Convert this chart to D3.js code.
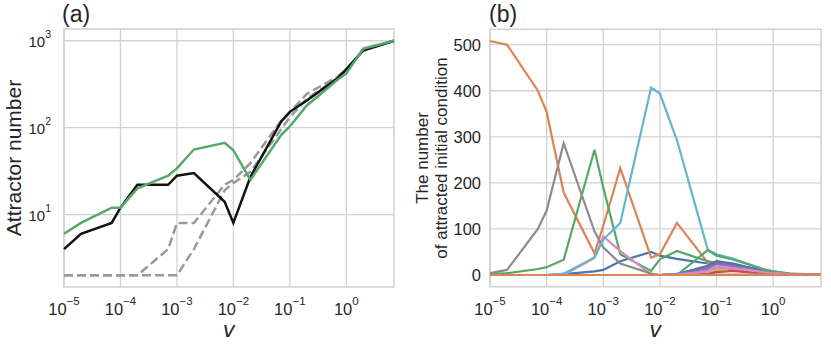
<!DOCTYPE html>
<html>
<head>
<meta charset="utf-8">
<script src="https://cdn.jsdelivr.net/npm/d3@7"></script>
<style>
  body { margin: 0; background: #fff; }
  text { font-family: "Liberation Sans", Arial, sans-serif; fill: #262626; }
</style>
</head>
<body>
<script>
// noise amplitudes (x values, shared by both panels)
const vValues = [1e-5, 2e-5, 7e-5, 1e-4, 2e-4, 7e-4, 1e-3, 2e-3, 7e-3, 1e-2, 2e-2, 7e-2, 1e-1, 2e-1, 7e-1, 1, 2, 7];
const xTicks = [1e-5, 1e-4, 1e-3, 1e-2, 1e-1, 1];
const xTickExp = ["\u22125", "\u22124", "\u22123", "\u22122", "\u22121", "0"];

// panel (a): attractor number
const attractorBlack = [4, 6, 8, 12, 22, 22, 28, 30, 14, 8, 27, 117, 152, 205, 370, 470, 773, 1000];
const attractorGreen = [6, 8, 12, 12, 20, 28, 34, 56, 67, 55, 25, 82, 103, 180, 355, 420, 810, 1000];
const attractorDashA = [2, 2, 2, 2, 2, 4, 8, 8, 22, 25, 39, 120, 150, 245, 385, 470, 780, 1000];
const attractorDashB = [2, 2, 2, 2, 2, 2, 2, 4, 19, 23, 31, 95, 132, 215, 370, 460, 780, 1000];
const yTicksA = [10, 100, 1000];
const yTickExpA = ["1", "2", "3"];

// panel (b): number of attracted initial conditions, one array per attractor
const basinBlue1   = [0, 0, 0, 0, 2, 8, 11, 30, 50, 42, 35, 25, 28, 22, 10, 6, 2, 0];
const basinOrange1 = [508, 500, 400, 354, 179, 47, 107, 232, 38, 45, 113, 27, 15, 10, 4, 2, 1, 0];
const basinGreen1  = [2, 4, 13, 17, 33, 272, 190, 45, 9, 34, 52, 30, 25, 15, 5, 3, 1, 0];
const basinRed1    = [0, 0, 0, 0, 0, 0, 0, 0, 0, 0, 1, 3, 8, 10, 4, 2, 1, 0];
const basinPurple1 = [0, 0, 0, 0, 0, 0, 0, 0, 0, 0, 2, 18, 22, 18, 7, 4, 2, 0];
const basinBrown1  = [0, 0, 0, 0, 0, 0, 0, 0, 0, 0, 1, 10, 14, 12, 5, 3, 1, 0];
const basinPink1   = [0, 0, 0, 0, 0, 37, 84, 52, 1, 0, 2, 14, 18, 14, 6, 3, 2, 0];
const basinGray1   = [4, 11, 100, 140, 286, 95, 60, 25, 3, 0, 0, 0, 0, 0, 0, 0, 0, 0];
const basinOlive1  = [0, 0, 0, 0, 0, 0, 0, 0, 0, 0, 1, 6, 12, 9, 4, 2, 1, 0];
const basinCyan1   = [0, 0, 0, 0, 3, 38, 77, 113, 407, 394, 293, 55, 45, 35, 12, 8, 3, 0];
const basinBlue2   = [0, 0, 0, 0, 0, 0, 0, 0, 0, 0, 2, 20, 30, 25, 8, 4, 1, 0];
const basinGreen2  = [0, 0, 0, 0, 0, 0, 0, 0, 0, 0, 0, 54, 42, 33, 12, 8, 3, 1];
const basinRed2    = [0, 0, 0, 0, 0, 0, 0, 0, 0, 0, 0, 2, 6, 9, 3, 2, 1, 0];
const basinPurple2 = [0, 0, 0, 0, 0, 0, 0, 0, 0, 0, 1, 15, 25, 20, 7, 4, 2, 0];
const basinPink2   = [0, 0, 0, 0, 0, 0, 0, 0, 0, 0, 1, 8, 20, 15, 6, 4, 2, 0];
const basinOrange2 = [0, 0, 0, 0, 0, 0, 0, 0, 0, 0, 0, 0, 1, 1, 1, 1, 1, 1];
const yTicksB = [0, 100, 200, 300, 400, 500];

// seaborn "deep" colours
const deep = {
  blue: "#4C72B0", orange: "#DD8452", green: "#55A868", red: "#C44E52", purple: "#8172B3",
  brown: "#937860", pink: "#DA8BC3", gray: "#8C8C8C", olive: "#CCB974", cyan: "#64B5CD"
};

const basinSeries = [
  [basinBlue1, deep.blue], [basinOrange1, deep.orange], [basinGreen1, deep.green],
  [basinRed1, deep.red], [basinPurple1, deep.purple], [basinBrown1, deep.brown],
  [basinPink1, deep.pink], [basinGray1, deep.gray], [basinOlive1, deep.olive],
  [basinCyan1, deep.cyan], [basinBlue2, deep.blue], [basinGreen2, deep.green],
  [basinRed2, deep.red], [basinPurple2, deep.purple], [basinPink2, deep.pink],
  [basinOrange2, deep.orange]
];

const svg = d3.select("body").append("svg")
  .attr("width", 831).attr("height", 347);

const gridColor = "#d2d2d2";

function drawFrame(x, y, yTicks, box) {
  let g = svg.append("g");
  // grid
  g.selectAll(".vg").data(xTicks).enter().append("line")
    .attr("x1", d => x(d)).attr("x2", d => x(d))
    .attr("y1", box.top).attr("y2", box.bottom)
    .attr("stroke", gridColor).attr("stroke-width", 1.3);
  g.selectAll(".hg").data(yTicks).enter().append("line")
    .attr("x1", box.left).attr("x2", box.right)
    .attr("y1", d => y(d)).attr("y2", d => y(d))
    .attr("stroke", gridColor).attr("stroke-width", 1.3);
  // spines
  g.append("rect")
    .attr("x", box.left).attr("y", box.top)
    .attr("width", box.right - box.left).attr("height", box.bottom - box.top)
    .attr("fill", "none").attr("stroke", gridColor).attr("stroke-width", 1.6);

  // x tick labels 10^n
  let xt = g.selectAll(".xt").data(xTicks).enter().append("text")
    .attr("x", d => x(d)).attr("y", 315)
    .attr("text-anchor", "middle")
    .style("font-size", "16.5px");
  xt.append("tspan").text("10");
  xt.append("tspan").attr("dy", -10).style("font-size", "11.5px")
    .text((d, i) => xTickExp[i]);

  // x label
  svg.append("text")
    .attr("x", (box.left + box.right) / 2).attr("y", 337)
    .attr("text-anchor", "middle")
    .style("font-family", "DejaVu Sans")
    .style("font-style", "italic")
    .style("font-size", "21px")
    .text("v");
}

// ---------- panel (a) ----------
const boxA = {left: 64, right: 394, top: 29, bottom: 287};
const pad = Math.pow(10, 0.135);
const xA = d3.scaleLog().domain([1e-5, 7]).range([boxA.left, boxA.right]);
const yA = d3.scaleLog().domain([2 / pad, 1000 * pad]).range([boxA.bottom, boxA.top]);

drawFrame(xA, yA, yTicksA, boxA);

let ytA = svg.selectAll(".yta").data(yTicksA).enter().append("text")
  .attr("x", 51).attr("y", d => yA(d) + 6)
  .attr("text-anchor", "end")
  .style("font-size", "15px");
ytA.append("tspan").text("10");
ytA.append("tspan").attr("dy", -9).style("font-size", "10.5px")
  .text((d, i) => yTickExpA[i]);

let lineA = d3.line().x((d, i) => xA(vValues[i])).y(d => yA(d));

svg.append("path").datum(attractorDashB).attr("d", lineA)
  .attr("fill", "none").attr("stroke", "#9a9a9a").attr("stroke-width", 2.5)
  .attr("stroke-dasharray", "9,4");
svg.append("path").datum(attractorDashA).attr("d", lineA)
  .attr("fill", "none").attr("stroke", "#9a9a9a").attr("stroke-width", 2.5)
  .attr("stroke-dasharray", "9,4");
svg.append("path").datum(attractorBlack).attr("d", lineA)
  .attr("fill", "none").attr("stroke", "#111").attr("stroke-width", 2.5);
svg.append("path").datum(attractorGreen).attr("d", lineA)
  .attr("fill", "none").attr("stroke", deep.green).attr("stroke-width", 2.5);

svg.append("text")
  .attr("transform", "translate(20.5," + (boxA.top + boxA.bottom) / 2 + ") rotate(-90)")
  .attr("text-anchor", "middle")
  .style("font-size", "21px")
  .text("Attractor number");

svg.append("text").attr("x", 62).attr("y", 22)
  .style("font-size", "23px").text("(a)");

// ---------- panel (b) ----------
const boxB = {left: 490, right: 821, top: 29.3, bottom: 286.7};
const xB = d3.scaleLog().domain([1e-5, 7]).range([boxB.left, boxB.right]);
const yB = d3.scaleLinear().domain([-25.4, 533.4]).range([boxB.bottom, boxB.top]);

drawFrame(xB, yB, yTicksB, boxB);

svg.selectAll(".ytb").data(yTicksB).enter().append("text")
  .attr("x", 481).attr("y", d => yB(d) + 6)
  .attr("text-anchor", "end")
  .style("font-size", "16.5px")
  .text(d => d);

let lineB = d3.line().x((d, i) => xB(vValues[i])).y(d => yB(d));

basinSeries.forEach(s => {
  svg.append("path").datum(s[0]).attr("d", lineB)
    .attr("fill", "none").attr("stroke", s[1]).attr("stroke-width", 2.2)
    .attr("stroke-linejoin", "miter");
});

let ylB = svg.append("text")
  .attr("transform", "translate(0," + (boxB.top + boxB.bottom) / 2 + ") rotate(-90)")
  .attr("text-anchor", "middle")
  .style("font-size", "17px");
ylB.append("tspan").attr("x", 0).attr("y", 428).text("The number");
ylB.append("tspan").attr("x", 0).attr("y", 447).text("of attracted initial condition");

svg.append("text").attr("x", 489).attr("y", 22)
  .style("font-size", "23px").text("(b)");
</script>
</body>
</html>
